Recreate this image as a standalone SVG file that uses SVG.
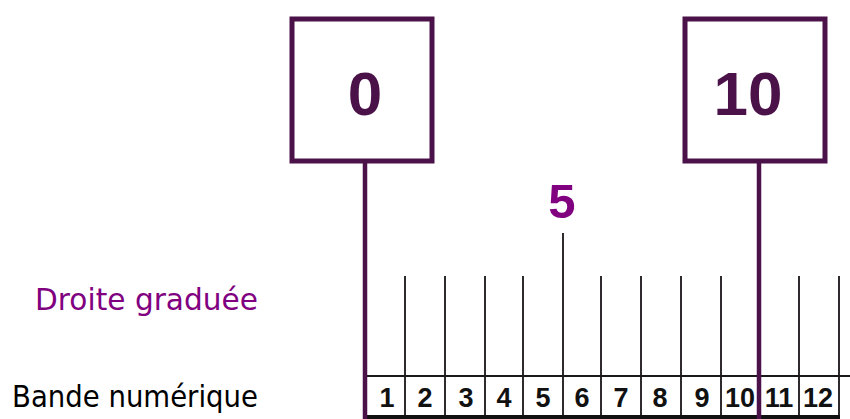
<svg xmlns="http://www.w3.org/2000/svg" width="850" height="419" viewBox="0 0 850 419">
  <style>
    .box { fill: #ffffff; stroke: #4a1248; stroke-width: 5; }
    .big { stroke: #4a1248; stroke-width: 4.5; fill: none; }
    .tick { stroke: #2e2a2e; stroke-width: 2; fill: none; }
    .boxnum { font-family: "Liberation Sans", Arial, sans-serif; font-weight: bold; font-size: 62px; fill: #4a1248; text-anchor: middle; }
    .five { font-family: "Liberation Sans", Arial, sans-serif; font-weight: bold; font-size: 49px; fill: #800080; text-anchor: middle; }
    .cell { font-family: "Liberation Sans", Arial, sans-serif; font-weight: bold; font-size: 27px; fill: #111111; text-anchor: middle; }
    .label { font-family: "DejaVu Sans", "Noto Sans", sans-serif; font-size: 31px; }
  </style>
  <rect x="0" y="0" width="850" height="419" fill="#ffffff"/>

  <g id="label-droite">
    <text class="label" x="35" y="310" fill="#800080" textLength="223" lengthAdjust="spacingAndGlyphs">Droite graduée</text>
  </g>
  <g id="label-bande">
    <text class="label" x="12" y="407" fill="#000000" textLength="246" lengthAdjust="spacingAndGlyphs">Bande numérique</text>
  </g>

  <g id="connectors">
    <line class="tick" x1="405" y1="276" x2="405" y2="417"/>
    <line class="tick" x1="445" y1="276" x2="445" y2="417"/>
    <line class="tick" x1="485" y1="276" x2="485" y2="417"/>
    <line class="tick" x1="523" y1="276" x2="523" y2="417"/>
    <line class="tick" x1="563" y1="233" x2="563" y2="417"/>
    <line class="tick" x1="601" y1="276" x2="601" y2="417"/>
    <line class="tick" x1="641" y1="276" x2="641" y2="417"/>
    <line class="tick" x1="681" y1="276" x2="681" y2="417"/>
    <line class="tick" x1="721" y1="276" x2="721" y2="417"/>
    <line class="tick" x1="799" y1="276" x2="799" y2="417"/>
    <line class="tick" x1="839" y1="276" x2="839" y2="417"/>
    <line x1="366" y1="376" x2="850" y2="376" stroke="#1a1a1a" stroke-width="2"/>
    <line x1="364" y1="417" x2="840" y2="417" stroke="#111111" stroke-width="4"/>
    <line class="big" x1="365" y1="162" x2="365" y2="419"/>
    <line class="big" x1="759" y1="162" x2="759" y2="419"/>
  </g>

  <g id="node-0">
    <rect class="box" x="292" y="19" width="140" height="142"/>
    <text class="boxnum" x="365" y="115">0</text>
  </g>
  <g id="node-10">
    <rect class="box" x="685" y="19" width="140" height="142"/>
    <text class="boxnum" x="748" y="115">10</text>
  </g>
  <g id="node-5">
    <text class="five" x="562" y="218">5</text>
  </g>

  <g id="strip-numbers">
    <text class="cell" x="387" y="407">1</text>
    <text class="cell" x="425" y="407">2</text>
    <text class="cell" x="466" y="407">3</text>
    <text class="cell" x="504" y="407">4</text>
    <text class="cell" x="543" y="407">5</text>
    <text class="cell" x="582" y="407">6</text>
    <text class="cell" x="621" y="407">7</text>
    <text class="cell" x="660" y="407">8</text>
    <text class="cell" x="702" y="407">9</text>
    <text class="cell" x="740" y="407">10</text>
    <text class="cell" x="779" y="407">11</text>
    <text class="cell" x="818" y="407">12</text>
  </g>
</svg>
